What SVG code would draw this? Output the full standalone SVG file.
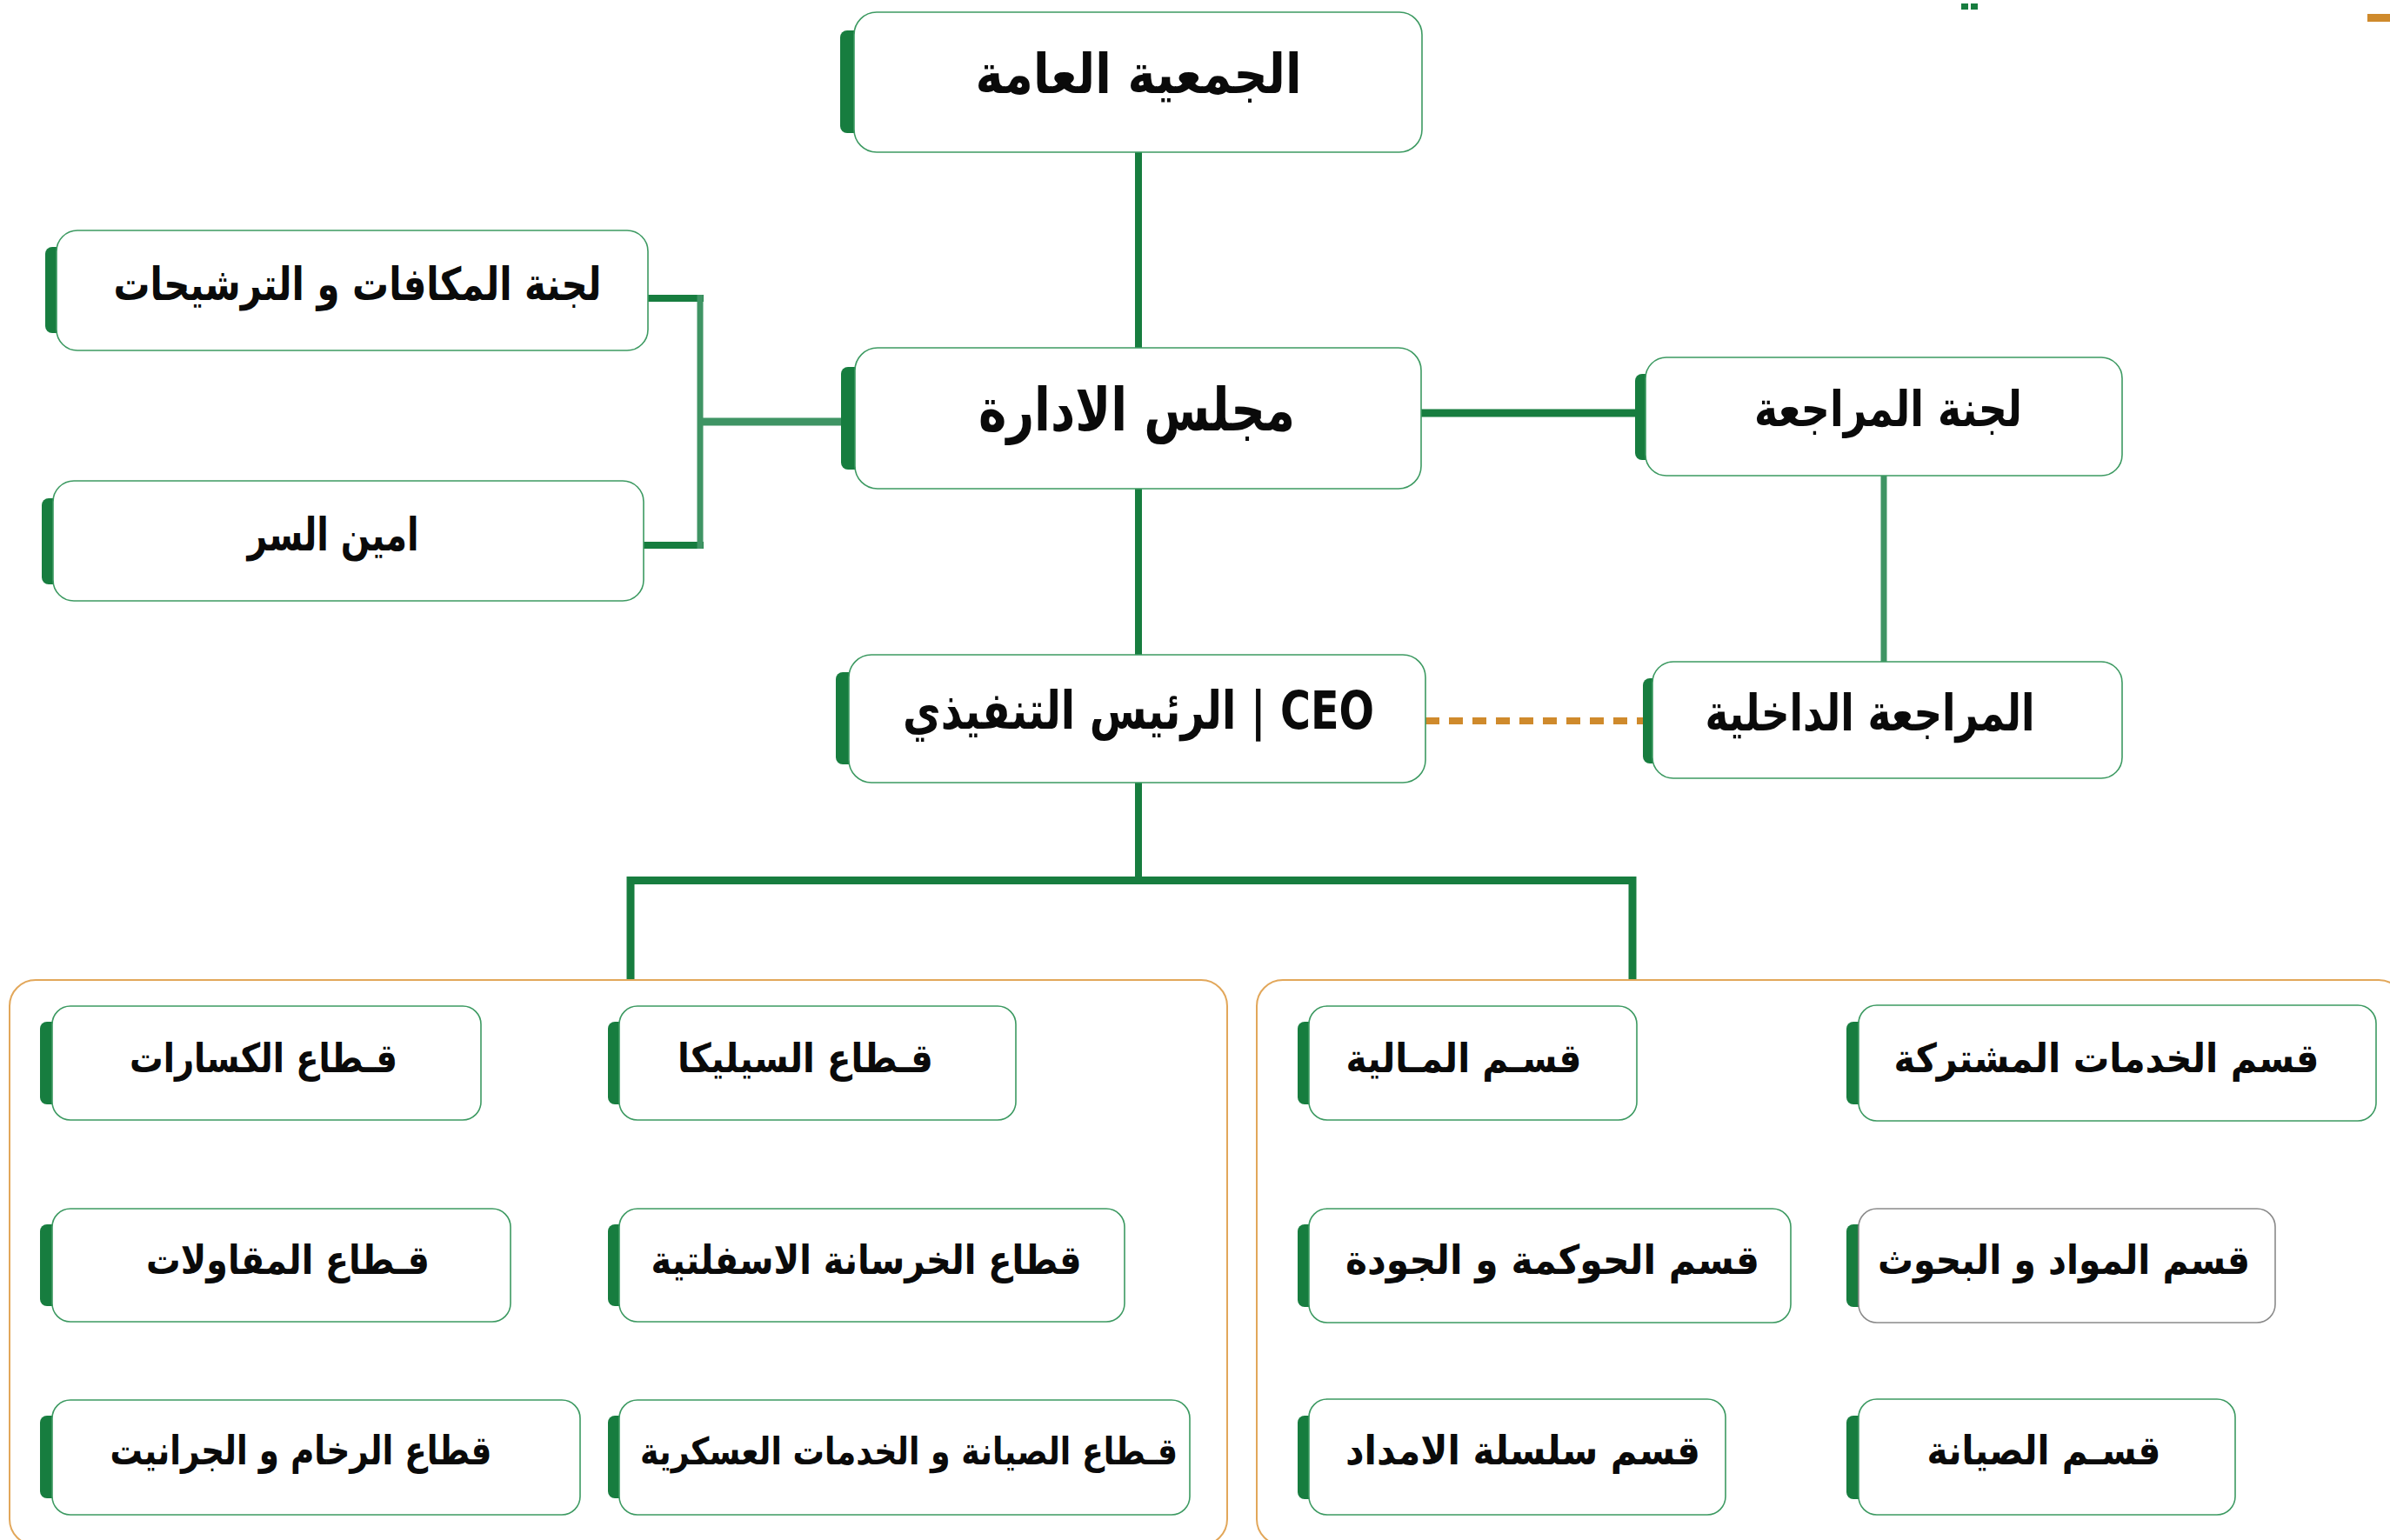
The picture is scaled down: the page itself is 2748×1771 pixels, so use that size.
<svg xmlns="http://www.w3.org/2000/svg" width="2748" height="1771" viewBox="0 0 2748 1771">
<style>
.box{fill:#fff;stroke:#3d9a62;stroke-width:1.6}
.gray{stroke:#8a8a8a}
.bar{fill:#177d3f}
.cont{fill:none;stroke:#e2a75a;stroke-width:2}
.t{font-family:"DejaVu Sans",sans-serif;font-weight:bold;fill:#0a0a0a;text-anchor:middle}
.big{font-size:63px}
.mid{font-size:52px}
.sm{font-size:46px}
.dk{stroke:#177d3f;fill:none}
.lt{stroke:#3f9464;fill:none}
</style>
<rect width="2748" height="1771" fill="#fff"/>
<g id="remnants">
<rect x="2255" y="4" width="8" height="7" fill="#177d3f"/>
<rect x="2266" y="4" width="8" height="7" fill="#177d3f"/>
<rect x="2722" y="16" width="26" height="9" fill="#cf8a2c"/>
</g>
<g id="containers">
<rect class="cont" x="11" y="1127" width="1400" height="650" rx="30"/>
<rect class="cont" x="1445" y="1127" width="1320" height="650" rx="30"/>
</g>
<g id="connectors">
<line class="dk" x1="1309" y1="175" x2="1309" y2="400" stroke-width="8"/>
<line class="dk" x1="1309" y1="562" x2="1309" y2="753" stroke-width="8"/>
<line class="dk" x1="1634" y1="475" x2="1882" y2="475" stroke-width="9"/>
<line class="lt" x1="2166" y1="547" x2="2166" y2="761" stroke-width="7"/>
<line class="dk" x1="745" y1="343" x2="809" y2="343" stroke-width="8"/>
<line class="dk" x1="740" y1="627" x2="809" y2="627" stroke-width="8"/>
<line class="lt" x1="805" y1="339" x2="805" y2="631" stroke-width="7"/>
<line class="lt" x1="805" y1="485" x2="967" y2="485" stroke-width="9"/>
<line x1="1639" y1="829" x2="1889" y2="829" stroke="#cf8a2c" stroke-width="8" stroke-dasharray="16 11"/>
<line class="dk" x1="1309" y1="900" x2="1309" y2="1012" stroke-width="8"/>
<path class="dk" d="M725,1126 V1012.5 H1877 V1126" stroke-width="9"/>
</g>
<g id="n-general">
<rect class="bar" x="966" y="35" width="24" height="118" rx="8"/>
<rect class="box" x="982" y="14" width="653" height="161" rx="26"/>
<text class="t big" x="1309" y="107" textLength="375" lengthAdjust="spacingAndGlyphs">الجمعية العامة</text>
</g>
<g id="n-board">
<rect class="bar" x="967" y="422" width="24" height="118" rx="8"/>
<rect class="box" x="983" y="400" width="651" height="162" rx="26"/>
<text class="t big" x="1307" y="495" textLength="364" lengthAdjust="spacingAndGlyphs" style="font-size:68px">مجلس الادارة</text>
</g>
<g id="n-rewards">
<rect class="bar" x="52" y="284" width="22" height="99" rx="8"/>
<rect class="box" x="65" y="265" width="680" height="138" rx="24"/>
<text class="t mid" x="411" y="345" textLength="561" lengthAdjust="spacingAndGlyphs">لجنة المكافات و الترشيحات</text>
</g>
<g id="n-secretary">
<rect class="bar" x="48" y="573" width="22" height="99" rx="8"/>
<rect class="box" x="61" y="553" width="679" height="138" rx="24"/>
<text class="t mid" x="383" y="633" textLength="197" lengthAdjust="spacingAndGlyphs">امين السر</text>
</g>
<g id="n-audit-committee">
<rect class="bar" x="1880" y="430" width="22" height="99" rx="8"/>
<rect class="box" x="1892" y="411" width="548" height="136" rx="24"/>
<text class="t mid" x="2171" y="490" textLength="308" lengthAdjust="spacingAndGlyphs" style="font-size:57px">لجنة المراجعة</text>
</g>
<g id="n-ceo">
<rect class="bar" x="961" y="773" width="24" height="106" rx="8"/>
<rect class="box" x="976" y="753" width="663" height="147" rx="26"/>
<text class="t big" x="1309" y="838" textLength="542" lengthAdjust="spacingAndGlyphs" style="font-size:60px">الرئيس التنفيذي | CEO</text>
</g>
<g id="n-internal-audit">
<rect class="bar" x="1889" y="780" width="22" height="98" rx="8"/>
<rect class="box" x="1900" y="761" width="540" height="134" rx="24"/>
<text class="t mid" x="2150" y="840" textLength="379" lengthAdjust="spacingAndGlyphs" style="font-size:58px">المراجعة الداخلية</text>
</g>
<g id="c-crushers">
<rect class="bar" x="46" y="1175" width="22" height="95" rx="8"/>
<rect class="box" x="60" y="1157" width="493" height="131" rx="21"/>
<text class="t sm" x="303" y="1233" textLength="308" lengthAdjust="spacingAndGlyphs">قـطاع الكسارات</text>
</g>
<g id="c-silica">
<rect class="bar" x="699" y="1175" width="22" height="95" rx="8"/>
<rect class="box" x="712" y="1157" width="456" height="131" rx="21"/>
<text class="t sm" x="926" y="1233" textLength="294" lengthAdjust="spacingAndGlyphs">قـطاع السيليكا</text>
</g>
<g id="c-contracting">
<rect class="bar" x="46" y="1408" width="22" height="94" rx="8"/>
<rect class="box" x="60" y="1390" width="527" height="130" rx="21"/>
<text class="t sm" x="331" y="1465" textLength="326" lengthAdjust="spacingAndGlyphs">قـطاع المقاولات</text>
</g>
<g id="c-asphalt">
<rect class="bar" x="699" y="1408" width="22" height="94" rx="8"/>
<rect class="box" x="712" y="1390" width="581" height="130" rx="21"/>
<text class="t sm" x="996" y="1465" textLength="495" lengthAdjust="spacingAndGlyphs">قطاع الخرسانة الاسفلتية</text>
</g>
<g id="c-marble">
<rect class="bar" x="46" y="1628" width="22" height="95" rx="8"/>
<rect class="box" x="60" y="1610" width="607" height="132" rx="21"/>
<text class="t sm" x="346" y="1684" textLength="439" lengthAdjust="spacingAndGlyphs">قطاع الرخام و الجرانيت</text>
</g>
<g id="c-military">
<rect class="bar" x="699" y="1628" width="22" height="95" rx="8"/>
<rect class="box" x="712" y="1610" width="656" height="132" rx="21"/>
<text class="t sm" x="1045" y="1684" textLength="618" lengthAdjust="spacingAndGlyphs" style="font-size:43px">قـطاع الصيانة و الخدمات العسكرية</text>
</g>
<g id="c-finance">
<rect class="bar" x="1492" y="1175" width="22" height="95" rx="8"/>
<rect class="box" x="1505" y="1157" width="377" height="131" rx="21"/>
<text class="t sm" x="1683" y="1233" textLength="271" lengthAdjust="spacingAndGlyphs">قسـم المـالية</text>
</g>
<g id="c-shared">
<rect class="bar" x="2123" y="1175" width="22" height="95" rx="8"/>
<rect class="box" x="2137" y="1156" width="595" height="133" rx="21"/>
<text class="t sm" x="2422" y="1233" textLength="489" lengthAdjust="spacingAndGlyphs">قسم الخدمات المشتركة</text>
</g>
<g id="c-governance">
<rect class="bar" x="1492" y="1408" width="22" height="95" rx="8"/>
<rect class="box" x="1505" y="1390" width="554" height="131" rx="21"/>
<text class="t sm" x="1785" y="1465" textLength="476" lengthAdjust="spacingAndGlyphs">قسم الحوكمة و الجودة</text>
</g>
<g id="c-materials">
<rect class="bar" x="2123" y="1408" width="22" height="95" rx="8"/>
<rect class="box gray" x="2137" y="1390" width="479" height="131" rx="21"/>
<text class="t sm" x="2373" y="1465" textLength="428" lengthAdjust="spacingAndGlyphs">قسم المواد و البحوث</text>
</g>
<g id="c-supply">
<rect class="bar" x="1492" y="1628" width="22" height="96" rx="8"/>
<rect class="box" x="1505" y="1609" width="479" height="133" rx="21"/>
<text class="t sm" x="1751" y="1684" textLength="408" lengthAdjust="spacingAndGlyphs">قسم سلسلة الامداد</text>
</g>
<g id="c-maintenance">
<rect class="bar" x="2123" y="1628" width="22" height="96" rx="8"/>
<rect class="box" x="2137" y="1609" width="433" height="133" rx="21"/>
<text class="t sm" x="2350" y="1684" textLength="269" lengthAdjust="spacingAndGlyphs">قسـم الصيانة</text>
</g>
</svg>
